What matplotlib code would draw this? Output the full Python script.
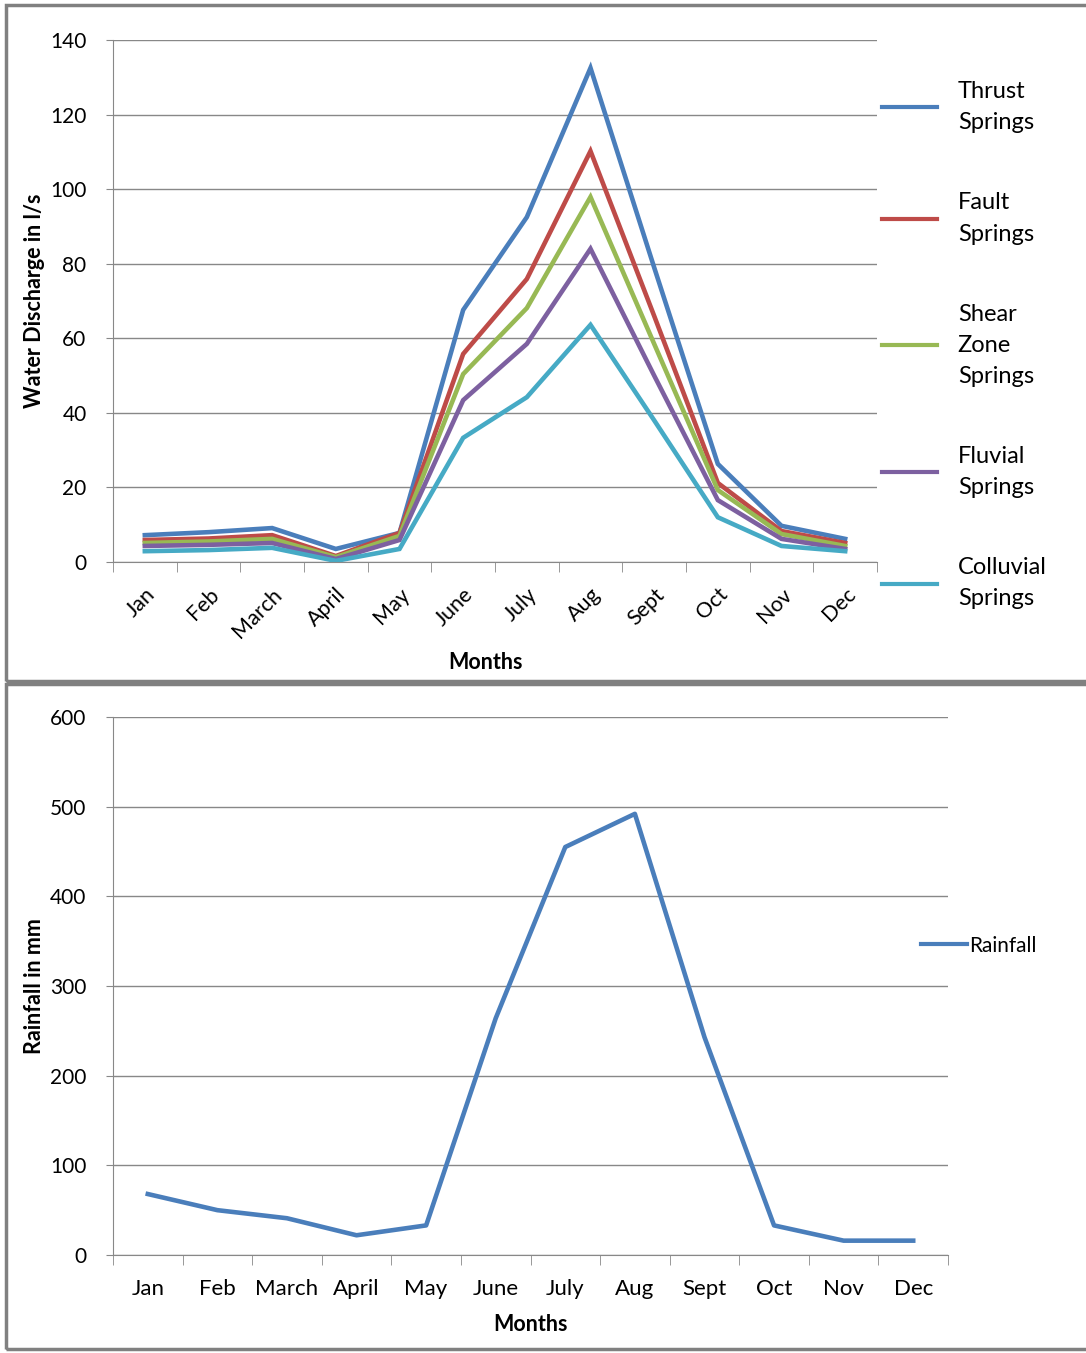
import numpy as np
import matplotlib.pyplot as plt
from matplotlib.patches import Rectangle
from matplotlib.ticker import MultipleLocator, FixedLocator

plt.rcParams['font.family'] = ['Lato', 'DejaVu Sans']

# Data
months = ["Jan", "Feb", "March", "April", "May", "June", "July", "Aug", "Sept", "Oct", "Nov", "Dec"]

thrust = [7.2, 8.0, 9.1, 3.5, 7.8, 67.6, 92.5, 132.5, 79.0, 26.3, 9.7, 6.2]
fault = [5.9, 6.3, 7.2, 1.6, 7.8, 55.8, 75.9, 110.2, 66.0, 21.2, 8.3, 5.1]
shear = [5.1, 5.5, 6.2, 1.3, 7.0, 50.4, 68.1, 97.9, 58.5, 19.3, 7.5, 4.3]
fluvial = [4.3, 4.6, 5.1, 0.8, 5.9, 43.4, 58.5, 84.0, 50.0, 16.6, 6.2, 3.5]
colluvial = [2.9, 3.2, 3.8, 0.3, 3.5, 33.3, 44.2, 63.6, 38.0, 12.0, 4.3, 2.9]

spring_labels = ["Thrust\nSprings", "Fault\nSprings", "Shear\nZone\nSprings",
                 "Fluvial\nSprings", "Colluvial\nSprings"]
spring_colors = ["#4A7EBB", "#BE4B48", "#98B954", "#7D60A0", "#46AAC5"]

rainfall = [68, 50, 41, 22, 33, 264, 455, 492, 243, 33, 16, 16]

W, H = 1086, 1353
fig = plt.figure(figsize=(W / 100, H / 100), dpi=100)

grid_col = "#888888"


def style_axes(ax):
    for s in ["top", "right"]:
        ax.spines[s].set_visible(False)
    ax.spines["left"].set_color(grid_col)
    ax.spines["bottom"].set_color(grid_col)
    ax.yaxis.grid(True, color=grid_col, linewidth=1)
    ax.set_axisbelow(True)
    x = np.arange(len(months))
    ax.set_xlim(-0.5, len(months) - 0.5)
    ax.xaxis.set_major_locator(FixedLocator(x))
    ax.xaxis.set_minor_locator(FixedLocator(np.arange(len(months) + 1) - 0.5))
    ax.tick_params(axis="x", which="minor", length=7, color=grid_col)
    ax.tick_params(axis="y", length=5, color=grid_col, pad=14, labelsize=15)


# ---- top panel: spring discharge
ax1 = fig.add_axes([113 / W, 1 - 562 / H, (877 - 113) / W, (562 - 40) / H])
style_axes(ax1)
ax1.tick_params(axis="x", which="major", length=0, pad=16)
x = np.arange(len(months))
series = [thrust, fault, shear, fluvial, colluvial]
for vals, lab, col in zip(series, spring_labels, spring_colors):
    ax1.plot(x, vals, color=col, linewidth=3.3, label=lab, solid_joinstyle="miter")
ax1.set_ylim(0, 140)
ax1.yaxis.set_major_locator(MultipleLocator(20))
ax1.set_xticklabels(months, rotation=45, ha="right", rotation_mode="anchor", fontsize=15.5)
ax1.set_ylabel("Water Discharge in l/s", fontsize=15.5, fontweight="bold", labelpad=4)
ax1.set_xlabel("Months", fontsize=15.5, fontweight="bold")
ax1.xaxis.set_label_coords(0.487, -0.172)
leg1 = ax1.legend(loc="upper left", bbox_to_anchor=(0.979, 0.962), frameon=False,
                  fontsize=17, handlelength=2.3, handletextpad=0.9, labelspacing=2.5)
for line in leg1.get_lines():
    line.set_linewidth(3)
for t in leg1.get_texts():
    t.set_linespacing(1.6)

# ---- bottom panel: rainfall
ax2 = fig.add_axes([113 / W, 1 - 1255 / H, (948 - 113) / W, (1255 - 717) / H])
style_axes(ax2)
ax2.tick_params(axis="x", which="major", length=0, pad=17)
ax2.plot(x, rainfall, color="#4A7EBB", linewidth=3.3, label="Rainfall")
ax2.set_ylim(0, 600)
ax2.yaxis.set_major_locator(MultipleLocator(100))
ax2.set_xticklabels(months, fontsize=16)
ax2.set_ylabel("Rainfall in mm", fontsize=15.5, fontweight="bold", labelpad=4)
ax2.set_xlabel("Months", fontsize=15.5, fontweight="bold", labelpad=11)
leg2 = ax2.legend(loc="center left", bbox_to_anchor=(0.945, 0.575), frameon=False,
                  fontsize=15, handlelength=2.2, handletextpad=0.1)
for line in leg2.get_lines():
    line.set_linewidth(3)

# panel frames
for y0, y1 in [(5, 681), (684, 1349)]:
    fig.patches.append(Rectangle((6 / W, 1 - y1 / H), (W + 10) / W, (y1 - y0) / H,
                                 transform=fig.transFigure, fill=False,
                                 edgecolor="#808080", linewidth=2.5))

fig.savefig("out.png", dpi=100)
